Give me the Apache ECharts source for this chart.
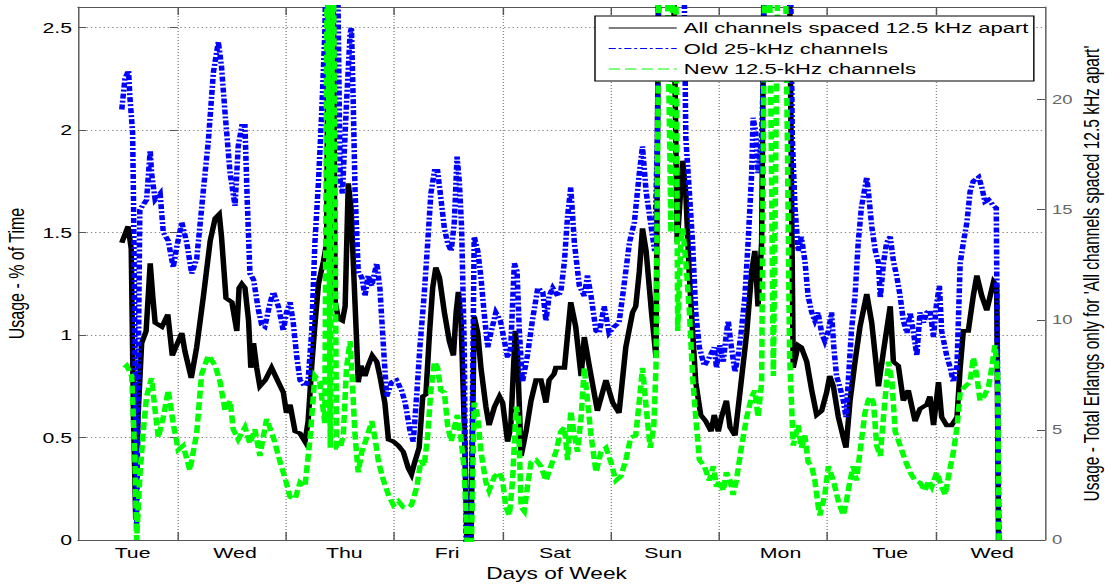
<!DOCTYPE html>
<html>
<head>
<meta charset="utf-8">
<title>Channel usage by day of week</title>
<script src="https://cdn.jsdelivr.net/npm/echarts@6/dist/echarts.min.js"></script>
<style>
  html, body { margin: 0; padding: 0; background: #fff; }
  #stage { width: 1105px; height: 587px; overflow: hidden; position: relative; background: #fff; }
  #chart { position: absolute; left: 0; top: 0; height: 587px; transform-origin: 0 0; }
</style>
</head>
<body>
<div id="stage"><div id="chart"></div></div>
<script>
// ---- Data: time in hours from midnight Tue/Wed, usage in % of time ----
const dayNames = ['Tue', 'Wed', 'Thu', 'Fri', 'Sat', 'Sun', 'Mon', 'Tue', 'Wed'];
const dayLabelHours = [-10.0, 12.7, 36.9, 59.7, 83.6, 107.6, 133.6, 157.9, 180.5];
const dayBoundaryHours = [0, 24, 48, 72, 96, 120, 144, 168];
const usageTicks = [0, 0.5, 1, 1.5, 2, 2.5];
const erlangTicks = [0, 5, 10, 15, 20];

const allChannels = [
  [-12.4,1.45],[-11.0,1.53],[-10.3,1.42],[-9.8,0.6],[-9.3,0.1],[-8.8,0.6],[-8.0,0.96],[-7.0,1.02],
  [-6.1,1.35],[-5.5,1.18],[-5.0,1.06],[-3.5,1.04],[-2.2,1.10],[-1.2,0.90],[0.9,1.01],[1.6,0.92],
  [3.0,0.79],[4.2,0.94],[5.7,1.19],[7.2,1.46],[8.3,1.57],[9.2,1.59],[9.7,1.48],[10.7,1.18],
  [12.0,1.16],[13.1,1.02],[13.6,1.23],[14.2,1.25],[14.9,1.23],[15.7,1.07],[16.2,0.84],[16.8,0.96],
  [17.5,0.84],[18.2,0.75],[19.4,0.78],[20.8,0.84],[22.3,0.77],[23.4,0.72],[24.1,0.62],[24.9,0.66],
  [26.0,0.53],[27.1,0.52],[28.2,0.48],[28.9,0.58],[29.7,0.85],[30.4,1.05],[31.2,1.25],[32.3,1.36],
  [33.0,1.45],[33.5,3.2],[34.3,3.2],[34.9,1.16],[35.6,1.08],[36.5,1.07],[37.1,1.14],[37.8,1.74],
  [38.4,1.62],[38.9,1.36],[39.7,0.94],[40.0,0.77],[40.6,0.85],[41.5,0.80],[42.2,0.85],[43.1,0.90],
  [44.1,0.87],[44.8,0.80],[45.9,0.67],[46.7,0.49],[47.8,0.48],[48.9,0.46],[50.0,0.43],[51.1,0.35],
  [51.8,0.32],[52.4,0.37],[53.5,0.45],[54.3,0.70],[55.0,0.71],[55.8,1.01],[56.5,1.23],[57.2,1.33],
  [58.0,1.28],[59.1,1.11],[60.2,0.97],[61.1,0.90],[61.7,1.11],[62.2,1.21],[62.8,1.07],[63.5,0.56],
  [64.1,0.0],[65.0,0.0],[65.7,1.09],[66.5,1.01],[67.2,0.84],[68.3,0.65],[69.0,0.56],[70.2,0.65],
  [71.3,0.70],[72.0,0.67],[73.1,0.48],[73.8,0.55],[74.8,1.02],[75.3,0.90],[76.1,0.41],[77.2,0.53],
  [78.3,0.68],[79.4,0.78],[80.5,0.78],[81.6,0.67],[82.3,0.78],[83.4,0.81],[83.8,0.84],[84.6,0.84],
  [85.7,0.84],[86.4,1.0],[87.1,1.16],[88.2,1.04],[89.4,0.80],[90.1,0.99],[91.2,0.85],[93.0,0.63],
  [94.9,0.78],[96.4,0.67],[97.8,0.62],[99.3,0.94],[100.8,1.11],[101.5,1.14],[102.3,1.31],[103.0,1.52],
  [103.8,1.41],[105.0,1.11],[106.0,0.89],[106.7,3.2],[109.6,3.2],[110.7,1.45],[111.9,1.85],[112.6,1.69],
  [113.4,1.28],[114.1,1.02],[114.8,0.77],[115.9,0.61],[117.0,0.58],[118.2,0.53],[118.9,0.61],[119.8,0.53],
  [120.5,0.60],[121.6,0.68],[122.4,0.55],[123.5,0.51],[124.6,0.72],[126.1,1.01],[127.2,1.31],[127.9,1.41],
  [128.6,1.14],[129.4,1.45],[130.1,3.2],[135.4,3.2],[136.4,0.84],[137.5,0.95],[138.2,0.94],[139.4,0.87],
  [140.5,0.73],[141.6,0.61],[142.7,0.63],[143.8,0.72],[144.5,0.80],[145.3,0.75],[146.4,0.60],[147.5,0.50],
  [148.1,0.45],[149.0,0.68],[150.1,0.87],[151.2,1.04],[152.7,1.20],[153.8,1.06],[155.3,0.75],[156.4,0.92],
  [157.9,1.14],[158.6,0.87],[159.7,0.85],[160.8,0.68],[161.9,0.73],[163.4,0.58],[164.5,0.64],[166.0,0.66],
  [166.7,0.70],[167.5,0.56],[168.6,0.77],[169.3,0.60],[170.4,0.56],[171.5,0.56],[172.7,0.60],[173.4,0.84],
  [174.1,1.02],[175.2,1.02],[176.3,1.19],[177.1,1.29],[178.2,1.19],[179.3,1.12],[180.8,1.26],[181.5,1.24],
  [181.9,0.0]
];

const old25kHz = [
  [-12.4,2.10],[-11.7,2.25],[-10.9,2.29],[-10.6,2.16],[-10.0,1.99],[-9.8,1.66],[-9.1,0.05],[-8.4,1.61],
  [-6.9,1.66],[-6.1,1.90],[-5.8,1.79],[-5.0,1.66],[-3.9,1.69],[-3.2,1.50],[-2.1,1.46],[-1.0,1.33],
  [-0.2,1.43],[0.9,1.55],[2.0,1.45],[3.1,1.30],[4.2,1.37],[5.7,1.71],[6.8,1.95],[7.9,2.28],
  [9.0,2.43],[9.7,2.31],[10.5,2.08],[11.6,1.79],[12.7,1.63],[13.4,1.92],[14.2,2.02],[14.9,2.02],
  [15.4,1.66],[16.0,1.30],[16.8,1.27],[17.9,1.12],[18.6,1.05],[19.3,1.04],[20.5,1.16],[21.2,1.21],
  [22.3,1.14],[23.4,1.02],[24.1,1.11],[24.9,1.16],[25.6,1.06],[26.4,0.89],[27.1,0.78],[28.2,0.75],
  [28.9,0.78],[29.7,1.02],[30.4,1.45],[31.2,1.75],[31.9,2.08],[32.6,2.47],[33.2,3.2],[35.2,3.2],
  [36.0,1.75],[36.5,1.69],[37.4,2.13],[38.2,2.47],[38.5,2.50],[38.9,2.13],[39.3,1.70],[40.0,1.31],
  [40.8,1.28],[41.5,1.19],[42.2,1.29],[43.0,1.24],[44.1,1.35],[44.8,1.23],[45.6,0.94],[46.3,0.70],
  [47.4,0.77],[48.5,0.78],[49.6,0.73],[50.4,0.67],[51.5,0.53],[52.2,0.48],[53.0,0.72],[53.7,0.95],
  [54.6,1.19],[55.4,1.45],[56.1,1.69],[56.9,1.80],[57.6,1.80],[58.3,1.67],[59.1,1.52],[59.8,1.45],
  [60.6,1.41],[61.3,1.55],[61.9,1.87],[62.4,1.75],[62.9,1.53],[63.5,0.94],[63.9,0.0],[65.0,0.0],
  [65.7,1.48],[66.5,1.41],[67.2,1.28],[67.9,1.11],[68.7,0.94],[69.4,1.01],[70.5,1.11],[71.5,1.07],
  [72.4,0.97],[73.1,0.89],[73.8,0.94],[74.6,1.35],[75.2,1.31],[75.7,1.02],[76.4,0.77],[77.5,0.90],
  [78.6,1.07],[79.8,1.23],[80.9,1.21],[81.6,1.07],[82.3,1.19],[83.1,1.23],[84.2,1.19],[84.9,1.21],
  [85.7,1.36],[86.4,1.58],[87.1,1.72],[87.9,1.45],[89.0,1.24],[90.1,1.19],[90.8,1.29],[91.6,1.19],
  [92.7,1.02],[93.4,1.01],[94.5,1.14],[95.6,1.01],[96.7,1.04],[97.8,1.06],[98.6,1.19],[100.1,1.45],
  [101.2,1.55],[102.3,1.79],[103.0,1.92],[103.8,1.70],[104.9,1.53],[105.7,1.41],[106.3,1.96],[106.8,3.2],
  [112.0,3.2],[112.6,1.96],[113.4,1.69],[114.1,1.45],[114.8,1.11],[115.6,0.94],[116.7,0.85],[117.8,0.89],
  [118.9,0.94],[119.4,0.84],[120.1,0.95],[120.9,0.87],[121.6,1.01],[122.0,1.07],[122.7,0.94],[123.5,0.82],
  [124.2,0.90],[124.9,1.02],[125.7,1.19],[126.4,1.45],[127.2,1.79],[127.5,2.06],[128.1,1.99],[128.6,1.79],
  [129.4,1.96],[129.7,2.21],[130.2,3.2],[135.6,3.2],[136.2,1.96],[136.8,1.62],[137.5,1.41],[138.2,1.48],
  [139.0,1.36],[139.7,1.19],[140.5,1.11],[141.2,1.07],[141.9,1.11],[142.7,1.01],[143.4,0.97],[144.2,1.02],
  [144.9,1.11],[145.4,0.94],[146.0,0.80],[146.7,0.75],[147.5,0.68],[148.1,0.60],[148.6,0.77],[149.3,1.02],
  [150.1,1.19],[150.8,1.45],[151.5,1.62],[152.3,1.72],[152.7,1.77],[153.1,1.69],[153.8,1.53],[154.6,1.41],
  [155.3,1.35],[155.7,1.18],[156.4,1.35],[157.1,1.45],[157.9,1.48],[158.6,1.36],[159.4,1.28],[160.1,1.19],
  [160.8,1.07],[161.6,1.01],[162.3,1.11],[163.0,1.02],[163.8,0.90],[164.5,1.11],[165.3,1.06],[166.0,1.11],
  [166.7,1.12],[167.5,0.99],[168.1,1.14],[168.8,1.24],[169.3,1.02],[170.4,0.90],[171.2,0.84],[171.9,0.77],
  [172.7,0.85],[173.4,1.35],[174.1,1.45],[174.9,1.55],[175.6,1.70],[176.3,1.75],[177.5,1.77],[178.2,1.72],
  [178.9,1.65],[179.7,1.66],[180.8,1.63],[181.4,1.62],[181.7,0.77],[182.0,0.0]
];

const new12k5Hz = [
  [-11.8,0.84],[-11.3,0.85],[-10.2,0.80],[-9.5,0.41],[-9.1,0.0],[-8.4,0.31],[-7.6,0.54],[-6.9,0.70],
  [-5.8,0.79],[-5.0,0.63],[-4.3,0.50],[-3.2,0.60],[-2.1,0.73],[-1.0,0.57],[0.1,0.44],[1.2,0.46],
  [2.7,0.34],[4.2,0.52],[5.3,0.81],[6.8,0.90],[8.3,0.85],[9.4,0.77],[10.5,0.63],[11.6,0.68],
  [12.3,0.54],[13.4,0.49],[14.9,0.55],[16.0,0.47],[17.1,0.54],[18.2,0.41],[19.7,0.59],[21.2,0.50],
  [22.7,0.38],[23.8,0.30],[24.9,0.21],[26.0,0.20],[27.1,0.28],[28.2,0.26],[29.3,0.49],[30.4,0.80],
  [31.5,0.77],[32.6,0.57],[33.2,3.2],[33.8,0.45],[34.4,3.2],[35.2,0.45],[36.0,0.45],[36.7,0.51],
  [37.4,0.84],[38.2,0.97],[38.7,0.77],[39.3,0.51],[40.0,0.33],[40.8,0.43],[41.9,0.50],[43.0,0.58],
  [43.7,0.50],[44.5,0.38],[45.6,0.29],[46.7,0.22],[47.8,0.17],[48.9,0.19],[50.0,0.16],[51.1,0.16],
  [51.8,0.17],[53.0,0.26],[53.9,0.39],[54.6,0.36],[55.4,0.51],[56.1,0.73],[56.9,0.87],[57.6,0.84],
  [58.3,0.73],[59.1,0.72],[59.8,0.56],[60.6,0.48],[61.3,0.55],[62.0,0.61],[62.7,0.51],[63.5,0.34],
  [64.1,0.0],[65.1,0.0],[65.7,0.67],[66.5,0.60],[67.2,0.43],[68.3,0.28],[69.0,0.24],[70.2,0.31],
  [71.3,0.33],[72.0,0.29],[72.7,0.16],[73.5,0.12],[74.2,0.29],[75.0,0.65],[75.5,0.60],[76.1,0.16],
  [76.8,0.14],[77.5,0.26],[78.3,0.38],[79.4,0.39],[80.5,0.36],[81.6,0.29],[82.7,0.36],[83.8,0.43],
  [84.9,0.53],[85.7,0.55],[86.4,0.39],[87.1,0.63],[87.9,0.51],[88.6,0.43],[89.4,0.60],[90.1,0.84],
  [90.8,0.68],[91.6,0.51],[92.7,0.33],[93.8,0.43],[94.9,0.45],[96.0,0.38],[97.1,0.29],[98.2,0.31],
  [99.3,0.39],[100.4,0.50],[101.5,0.51],[102.3,0.68],[103.0,0.84],[103.8,0.65],[104.7,0.45],[105.5,0.55],
  [106.0,0.85],[106.8,3.2],[108.2,3.2],[109.3,1.50],[109.9,3.2],[110.3,3.2],[110.8,1.02],[111.5,1.45],
  [111.9,1.52],[112.6,1.36],[113.4,1.11],[114.1,0.80],[114.8,0.60],[115.6,0.39],[116.7,0.36],[117.8,0.29],
  [118.7,0.36],[119.4,0.26],[120.1,0.29],[120.9,0.24],[121.6,0.33],[122.4,0.29],[123.1,0.22],[123.8,0.29],
  [124.9,0.45],[126.1,0.60],[127.2,0.70],[127.9,0.73],[128.6,0.60],[129.4,0.77],[130.2,3.2],[131.0,3.2],
  [132.0,0.80],[133.2,3.2],[134.5,3.2],[135.6,0.90],[136.4,0.46],[137.5,0.56],[138.2,0.45],[139.0,0.51],
  [139.7,0.38],[140.5,0.36],[141.2,0.29],[141.9,0.17],[142.3,0.12],[143.4,0.22],[144.2,0.36],[145.3,0.29],
  [146.4,0.19],[147.5,0.12],[148.2,0.19],[149.0,0.29],[149.7,0.36],[150.4,0.29],[151.2,0.43],[152.3,0.62],
  [153.0,0.68],[153.5,0.70],[154.2,0.67],[154.9,0.46],[155.7,0.41],[156.4,0.60],[157.5,0.87],[158.3,0.77],
  [159.0,0.53],[160.1,0.46],[161.2,0.39],[162.3,0.33],[163.4,0.29],[164.5,0.28],[165.6,0.24],[166.4,0.29],
  [167.1,0.26],[168.2,0.33],[169.3,0.26],[170.1,0.22],[170.8,0.31],[171.9,0.43],[172.7,0.55],[173.4,0.72],
  [174.5,0.75],[175.6,0.77],[176.3,0.89],[177.1,0.80],[177.8,0.68],[178.7,0.70],[179.7,0.75],[180.4,0.84],
  [181.1,0.95],[181.7,0.80],[182.0,0.0]
];

// ---- Layout ----
// The figure is drawn on a narrower canvas and widened horizontally,
// which gives the broad, stretched lettering of the original plot.
const STRETCH = 1.42;
const W = 1105, H = 587;
const sx = px => px / STRETCH;          // horizontal screen px -> chart px

const X_MIN = -22.1, X_MAX = 192.2;     // hours shown on the time axis
const USAGE_MAX = 2.6, ERLANG_MAX = 24.2;

const FONT = '"Liberation Sans", Arial, Helvetica, sans-serif';
const AXIS_GREY = '#555';
const GRID_STYLE = { color: '#8a8a8a', width: 1, type: [1, 2] };

const el = document.getElementById('chart');
el.style.width = (W / STRETCH) + 'px';
el.style.transform = 'scaleX(' + STRETCH + ')';

const chart = echarts.init(el, null, { renderer: 'svg', width: W / STRETCH, height: H });

function dayLabel(value) {
  for (let i = 0; i < dayLabelHours.length; i++) {
    if (Math.abs(dayLabelHours[i] - value) < 1e-6) return dayNames[i];
  }
  return '';
}

chart.setOption({
  animation: false,
  backgroundColor: '#fff',
  grid: {
    left: sx(78), right: sx(W - 1045), top: 7, bottom: H - 540,
    containLabel: false, outerBoundsMode: 'none'
  },
  legend: {
    orient: 'vertical',
    left: sx(595), top: 16,
    padding: [3, sx(5), 3, sx(13)],
    itemWidth: sx(68), itemHeight: 14, itemGap: 2.5,
    borderColor: '#000', borderWidth: 1, backgroundColor: '#fff',
    textStyle: { fontFamily: FONT, fontSize: 15.5, color: '#000', lineHeight: 18 },
    lineStyle: { width: 1 },
    itemStyle: { opacity: 0 },
    data: ['All channels spaced 12.5 kHz apart', 'Old 25-kHz channels', 'New 12.5-kHz channels']
  },
  xAxis: [
    {
      type: 'value', position: 'bottom', min: X_MIN, max: X_MAX,
      axisLine: { show: true, onZero: false, lineStyle: { color: AXIS_GREY, width: 1 } },
      axisTick: { show: true, inside: true, length: 8, customValues: dayBoundaryHours,
                  lineStyle: { color: AXIS_GREY } },
      axisLabel: { customValues: dayLabelHours, formatter: dayLabel, margin: 5,
                   fontFamily: FONT, fontSize: 15, color: '#000' },
      splitLine: { show: true, lineStyle: GRID_STYLE },
      name: 'Days of Week', nameLocation: 'middle', nameGap: 23,
      nameTextStyle: { fontFamily: FONT, fontSize: 16, color: '#000', padding: [0, 7, 0, 0] }
    },
    {
      type: 'value', position: 'top', min: X_MIN, max: X_MAX,
      axisLine: { show: true, onZero: false, lineStyle: { color: AXIS_GREY, width: 1 } },
      axisTick: { show: true, inside: true, length: 8, customValues: dayBoundaryHours,
                  lineStyle: { color: AXIS_GREY } },
      axisLabel: { show: false },
      splitLine: { show: false }
    }
  ],
  yAxis: [
    {
      type: 'value', position: 'left', min: 0, max: USAGE_MAX,
      axisLine: { show: true, onZero: false, lineStyle: { color: AXIS_GREY, width: 1 } },
      axisTick: { show: true, inside: true, length: sx(8), customValues: usageTicks,
                  lineStyle: { color: AXIS_GREY } },
      axisLabel: { customValues: usageTicks, margin: sx(6),
                   fontFamily: FONT, fontSize: 15, color: '#000' },
      splitLine: { show: true, lineStyle: GRID_STYLE },
      name: 'Usage - % of Time', nameLocation: 'middle', nameRotate: 90, nameGap: 34,
      nameTextStyle: { fontFamily: FONT, fontSize: 16, color: '#000' }
    },
    {
      type: 'value', position: 'right', min: 0, max: ERLANG_MAX,
      axisLine: { show: true, onZero: false, lineStyle: { color: AXIS_GREY, width: 1 } },
      axisTick: { show: true, inside: true, length: sx(8), customValues: erlangTicks,
                  lineStyle: { color: AXIS_GREY } },
      axisLabel: { customValues: erlangTicks, margin: sx(7),
                   fontFamily: FONT, fontSize: 13, color: '#666' },
      splitLine: { show: false },
      name: "Usage - Total Erlangs only for 'All channels spaced 12.5 kHz apart'",
      nameLocation: 'middle', nameRotate: 90, nameGap: 25, nameMoveOverlap: false,
      nameTextStyle: { fontFamily: FONT, fontSize: 15.5, color: '#000' }
    },
    {
      // mirrored usage ticks on the right edge of the box
      type: 'value', position: 'right', min: 0, max: USAGE_MAX,
      axisLine: { show: false },
      axisTick: { show: true, inside: true, length: sx(8), customValues: usageTicks,
                  lineStyle: { color: AXIS_GREY } },
      axisLabel: { show: false },
      splitLine: { show: false }
    }
  ],
  series: [
    {
      name: 'All channels spaced 12.5 kHz apart', type: 'line',
      xAxisIndex: 0, yAxisIndex: 0, data: allChannels,
      symbol: 'none', clip: true,
      lineStyle: { color: '#000', width: 3.9, cap: 'butt', join: 'miter' },
      itemStyle: { color: '#000' }
    },
    {
      name: 'Old 25-kHz channels', type: 'line',
      xAxisIndex: 0, yAxisIndex: 0, data: old25kHz,
      symbol: 'none', clip: true,
      lineStyle: { color: '#0000ff', width: 3.9, type: [5, 2, 2, 2], cap: 'butt', join: 'miter' },
      itemStyle: { color: '#0000ff' }
    },
    {
      name: 'New 12.5-kHz channels', type: 'line',
      xAxisIndex: 0, yAxisIndex: 0, data: new12k5Hz,
      symbol: 'none', clip: true,
      lineStyle: { color: '#00ff00', width: 3.9, type: [8, 3.5], cap: 'butt', join: 'miter' },
      itemStyle: { color: '#00ff00' }
    }
  ]
});
</script>
</body>
</html>
